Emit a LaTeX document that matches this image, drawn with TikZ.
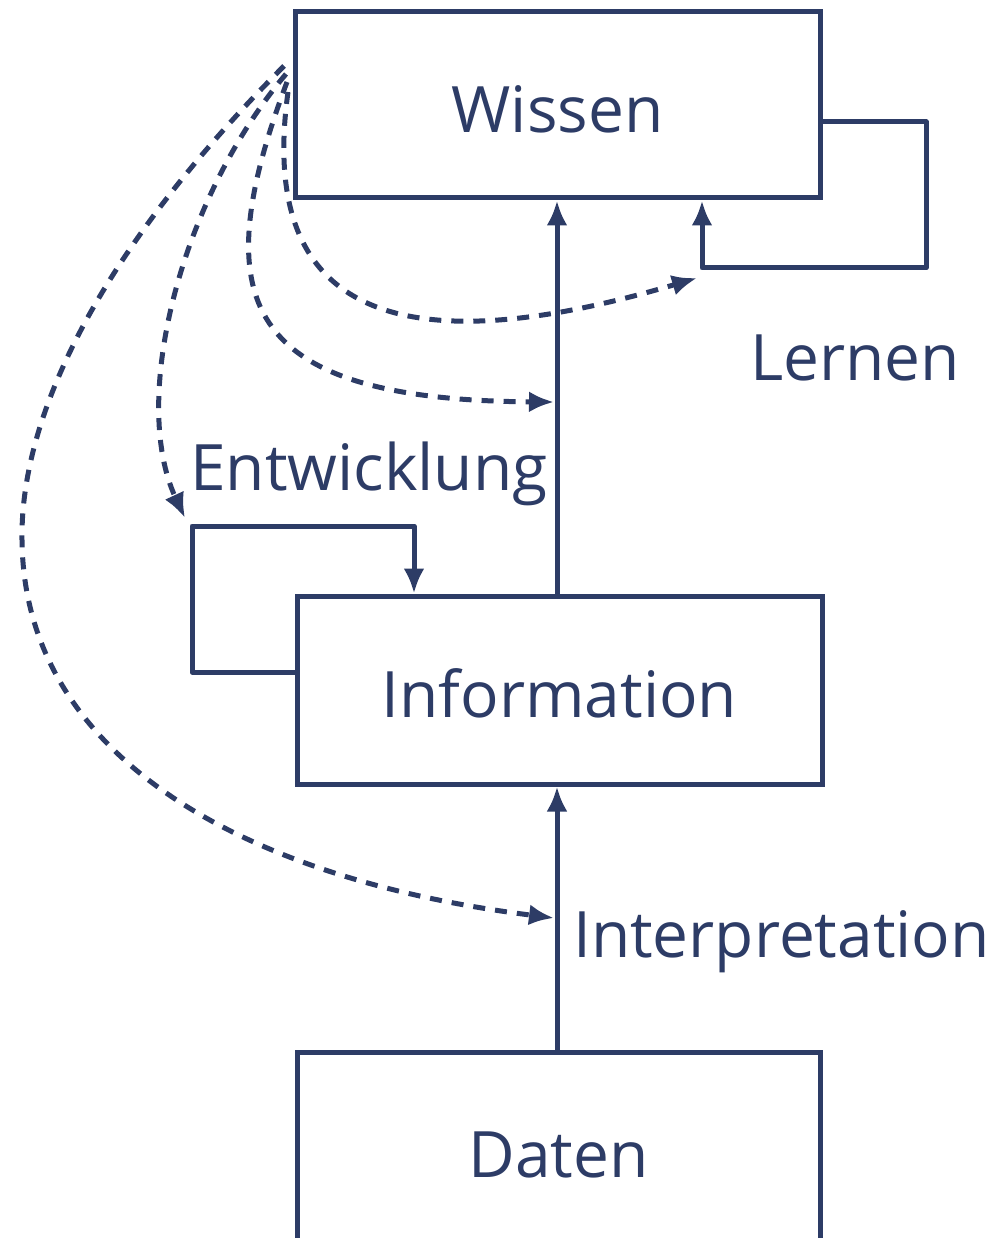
\documentclass[tikz,border=0pt]{standalone}
\usepackage{fontspec}
\setmainfont{Open Sans}
\usepackage{tikz}
\usetikzlibrary{arrows.meta,positioning,calc}

\definecolor{navy}{RGB}{45,60,102}
\tikzset{
  box/.style={draw=navy,line width=5pt,minimum width=525pt,text=navy,
    font=\fontsize{64}{70}\selectfont,inner sep=0pt},
  conn/.style={draw=navy,line width=5pt,-{Latex[length=25pt,width=21pt]}},
  dconn/.style={conn,dash pattern=on 12pt off 10pt},
  lbl/.style={text=navy,font=\fontsize{64}{70}\selectfont,inner sep=0pt}
}

\begin{document}
\begin{tikzpicture}[x=1pt,y=-1pt]
  \useasboundingbox (0,0) rectangle (998,1238);
  % boxes
  \node[box,minimum height=186pt,text height=56pt,text depth=0pt] (wissen) at (557.5,105) {Wissen};
  \node[box,minimum height=188pt,text height=54pt,text depth=0pt] (information) at (559.5,690) {Information};
  \node[box,minimum height=206pt,minimum width=523pt] (daten) at (558.5,1155) {Daten};
  % labels
  \node[lbl,anchor=base west] (lernen) at (750,380) {Lernen};
  \node[lbl,anchor=base west] (entwicklung) at (190,490) {Entwicklung};
  \node[lbl,anchor=base west] (interpretation) at (573,957) {Interpretation};
  % main arrows
  \draw[conn] (daten.north -| 557,0) -- (information.south -| 557,0);
  \draw[conn] (information.north -| 557,0) -- (wissen.south -| 557,0);
  % loops
  \coordinate (lernA) at (926,122);
  \coordinate (lernB) at (702,268);
  \draw[conn,line join=round] (wissen.east |- lernA) -- (lernA) |- (lernB) -- (wissen.south -| lernB);
  \coordinate (entwA) at (192,672);
  \coordinate (entwB) at (414,526);
  \draw[conn,line join=round] (information.west |- entwA) -- (entwA) |- (entwB) -- (information.north -| entwB);
  % dashed curves
  \coordinate (s1) at (284,66);
  \coordinate (s2) at (286,74);
  \coordinate (s3) at (287,82);
  \coordinate (s4) at (288,92);
  \coordinate (e1) at (554,918);
  \coordinate (e2) at (185,518);
  \coordinate (e3) at (554,402);
  \coordinate (e4) at (697,278);
  \draw[dconn] (s1) .. controls (120,230) and (20,400) .. (22,540)
    .. controls (24,760) and (250,880) .. (e1);
  \draw[dconn] (s2) .. controls (180,200) and (130,400) .. (e2);
  \draw[dconn] (s3) .. controls (205,300) and (240,400) .. (e3);
  \draw[dconn] (s4) .. controls (255,330) and (420,360) .. (e4);
\end{tikzpicture}
\end{document}
